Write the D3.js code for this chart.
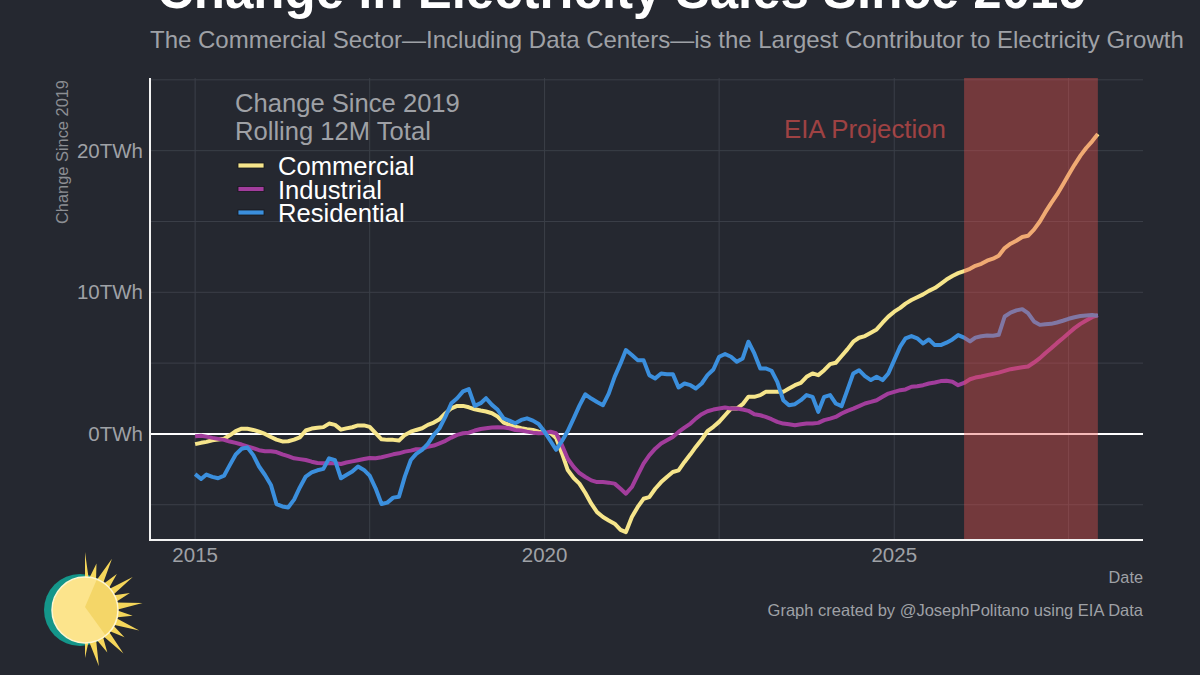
<!DOCTYPE html>
<html>
<head>
<meta charset="utf-8">
<script src="https://cdn.jsdelivr.net/npm/d3@7"></script>
<style>
    html, body { margin: 0; padding: 0; background: #252830; }
    svg { display: block; font-family: "Liberation Sans", Arial, sans-serif; }
</style>
</head>
<body>
<svg id="chart" width="1200" height="675"></svg>
<script>

// Monthly values, Jan 2015 .. Dec 2027 (one row per year), TWh change vs 2019
var iStartYear = 2015;

var aCommercial = [
    -0.72, -0.63, -0.56, -0.45, -0.40, -0.34, -0.10, 0.20, 0.37, 0.36, 0.28, 0.16,
    0.00, -0.22, -0.40, -0.53, -0.52, -0.40, -0.24, 0.24, 0.38, 0.43, 0.48, 0.73,
    0.64, 0.30, 0.39, 0.47, 0.60, 0.60, 0.50, 0.05, -0.38, -0.42, -0.42, -0.47,
    -0.07, 0.16, 0.28, 0.40, 0.64, 0.80, 1.04, 1.46, 1.81, 1.98, 1.98, 1.88,
    1.74, 1.65, 1.58, 1.46, 1.22, 0.80, 0.64, 0.52, 0.40, 0.33, 0.28, 0.16,
    0.06, 0.06, -0.28, -1.38, -2.55, -3.11, -3.51, -4.17, -4.93, -5.52, -5.87, -6.11,
    -6.34, -6.77, -6.93, -5.87, -5.17, -4.58, -4.46, -3.87, -3.40, -3.04, -2.69, -2.57,
    -1.98, -1.44, -0.92, -0.40, 0.19, 0.50, 0.85, 1.32, 1.79, 1.79, 2.10, 2.62,
    2.62, 2.74, 2.97, 2.97, 2.97, 2.97, 3.21, 3.44, 3.61, 4.03, 4.27, 4.15,
    4.50, 4.93, 5.02, 5.50, 5.97, 6.51, 6.79, 6.91, 7.15, 7.38, 7.85, 8.28,
    8.63, 8.90, 9.20, 9.45, 9.65, 9.85, 10.10, 10.30, 10.60, 10.90, 11.15, 11.35,
    11.50, 11.66, 11.87, 12.01, 12.23, 12.37, 12.58, 13.12, 13.43, 13.64, 13.90, 13.99,
    14.42, 15.00, 15.64, 16.30, 16.89, 17.60, 18.30, 19.00, 19.65, 20.19, 20.66, 21.18
];

var aIndustrial = [
    -0.16, -0.13, -0.19, -0.28, -0.35, -0.42, -0.54, -0.63, -0.75, -0.88, -1.01, -1.15,
    -1.22, -1.22, -1.28, -1.44, -1.57, -1.72, -1.78, -1.84, -1.96, -2.05, -2.07, -2.07,
    -2.07, -2.12, -2.02, -1.94, -1.86, -1.77, -1.70, -1.72, -1.65, -1.55, -1.44, -1.37,
    -1.25, -1.18, -1.08, -1.06, -0.90, -0.82, -0.66, -0.49, -0.26, -0.07, 0.05, 0.09,
    0.24, 0.35, 0.40, 0.45, 0.47, 0.45, 0.40, 0.28, 0.24, 0.16, 0.09, 0.05,
    0.06, 0.15, 0.05, -0.80, -1.75, -2.33, -2.76, -3.04, -3.28, -3.40, -3.40, -3.44,
    -3.51, -3.87, -4.22, -3.75, -2.92, -2.10, -1.51, -1.04, -0.68, -0.45, -0.21, 0.14,
    0.45, 0.73, 1.08, 1.39, 1.60, 1.72, 1.79, 1.86, 1.79, 1.79, 1.72, 1.63,
    1.39, 1.32, 1.20, 1.04, 0.85, 0.73, 0.68, 0.61, 0.68, 0.73, 0.73, 0.78,
    0.97, 1.08, 1.20, 1.44, 1.63, 1.79, 1.96, 2.15, 2.26, 2.38, 2.62, 2.85,
    2.97, 3.09, 3.14, 3.33, 3.37, 3.44, 3.56, 3.63, 3.73, 3.75, 3.68, 3.44,
    3.60, 3.86, 3.98, 4.05, 4.15, 4.24, 4.33, 4.45, 4.57, 4.64, 4.71, 4.76,
    5.04, 5.35, 5.70, 6.05, 6.41, 6.76, 7.11, 7.47, 7.77, 8.01, 8.24, 8.39
];

var aResidential = [
    -2.84, -3.18, -2.87, -3.03, -3.13, -2.95, -2.20, -1.45, -1.05, -0.95, -1.50, -2.30,
    -2.90, -3.60, -4.95, -5.12, -5.19, -4.64, -3.78, -3.01, -2.72, -2.57, -2.47, -1.72,
    -1.86, -3.13, -2.90, -2.66, -2.30, -2.54, -2.95, -3.84, -4.95, -4.85, -4.50, -4.43,
    -3.00, -1.84, -1.41, -1.13, -0.70, -0.07, 0.40, 1.22, 2.17, 2.52, 3.00, 3.16,
    1.98, 2.17, 2.52, 2.05, 1.70, 1.10, 0.94, 0.75, 0.99, 1.10, 0.94, 0.70,
    0.15, -0.50, -1.12, -0.50, 0.20, 1.10, 2.00, 2.80, 2.50, 2.26, 2.03, 2.85,
    4.03, 4.98, 5.92, 5.57, 5.21, 5.21, 4.15, 3.92, 4.27, 4.22, 4.22, 3.28,
    3.56, 3.44, 3.21, 3.56, 4.15, 4.55, 5.45, 5.64, 5.45, 5.09, 5.33, 6.51,
    5.68, 4.62, 4.62, 4.46, 3.68, 2.38, 2.03, 2.10, 2.38, 2.74, 2.62, 1.56,
    2.62, 2.74, 2.15, 1.96, 3.09, 4.27, 4.50, 4.08, 3.80, 4.03, 3.80, 4.27,
    5.21, 6.16, 6.75, 6.91, 6.75, 6.39, 6.67, 6.27, 6.27, 6.44, 6.67, 6.98,
    6.80, 6.53, 6.80, 6.90, 6.95, 6.93, 7.00, 8.29, 8.57, 8.72, 8.81, 8.53,
    7.94, 7.70, 7.75, 7.77, 7.87, 7.99, 8.13, 8.24, 8.32, 8.36, 8.39, 8.34
];

var aSeriesNames = ["Commercial", "Industrial", "Residential"];
var aYTicks = [0, 10, 20];
var aYGrid = [-5, 0, 5, 10, 15, 20, 25];
var aXTicks = [2015, 2020, 2025];
var aXGrid = [2015, 2017.5, 2020, 2022.5, 2025, 2027.5];
var aProjection = ["2026-01-01", "2027-12-01"];

var sTitle = "Change in Electricity Sales Since 2019";
var sSubtitle = "The Commercial Sector\u2014Including Data Centers\u2014is the Largest Contributor to Electricity Growth";
var aLegendTitle = ["Change Since 2019", "Rolling 12M Total"];
var sYTitle = "Change Since 2019";
var sXTitle = "Date";
var sCaption = "Graph created by @JosephPolitano using EIA Data";
var sProjectionLabel = "EIA Projection";

var oColors = {
    Commercial: "#f6e58b",
    Industrial: "#a23d9c",
    Residential: "#3b8fdd"
};
var sGray = "#9fa1a6";
var sShade = "#e8534f";

// Plot panel
var oPanel = { iLeft: 150, iRight: 1143, iTop: 78, iBottom: 540 };

var dSVG = d3.select("#chart");

var aDates = aCommercial.map(function(v, i) {
    return new Date(iStartYear, i, 1);
});

var aSeries = aSeriesNames.map(function(sName) {
    var aVals = sName === "Commercial" ? aCommercial : (sName === "Industrial" ? aIndustrial : aResidential);
    return {
        name: sName,
        values: aVals.map(function(v, i) { return { date: aDates[i], value: v }; })
    };
});

// ggplot-style 5% expansion on the date axis
var aExtent = d3.extent(aDates);
var iPad = (aExtent[1] - aExtent[0]) * 0.05;

var x = d3.scaleTime()
    .domain([new Date(+aExtent[0] - iPad), new Date(+aExtent[1] + iPad)])
    .range([oPanel.iLeft, oPanel.iRight]);

var y = d3.scaleLinear()
    .domain([-7.49, 25.13])
    .range([oPanel.iBottom, oPanel.iTop]);

function yearToDate(fYear) {
    var iYear = Math.floor(fYear);
    return new Date(iYear, Math.round((fYear - iYear) * 12), 1);
}

// Gridlines
var dGrid = dSVG.append("g").attr("stroke", "#3b3f48").attr("stroke-width", 1);

dGrid.selectAll("line.h").data(aYGrid).enter().append("line")
    .attr("class", "h")
    .attr("x1", oPanel.iLeft).attr("x2", oPanel.iRight)
    .attr("y1", function(d) { return y(d); })
    .attr("y2", function(d) { return y(d); });

dGrid.selectAll("line.v").data(aXGrid).enter().append("line")
    .attr("class", "v")
    .attr("y1", oPanel.iTop).attr("y2", oPanel.iBottom)
    .attr("x1", function(d) { return x(yearToDate(d)); })
    .attr("x2", function(d) { return x(yearToDate(d)); });

// Projection label (sits under the lines, semi transparent)
dSVG.append("text")
    .attr("x", x(new Date(2024, 7, 1)))
    .attr("y", 138)
    .attr("text-anchor", "middle")
    .style("font-size", "25.8px")
    .style("fill", sShade)
    .style("opacity", 0.62)
    .text(sProjectionLabel);

// Zero line
dSVG.append("line")
    .attr("x1", oPanel.iLeft).attr("x2", oPanel.iRight)
    .attr("y1", y(0)).attr("y2", y(0))
    .attr("stroke", "#ffffff")
    .attr("stroke-width", 2);

// Series lines
var line = d3.line()
    .x(function(d) { return x(d.date); })
    .y(function(d) { return y(d.value); });

dSVG.append("g").selectAll("path").data(aSeries).enter().append("path")
    .attr("d", function(d) { return line(d.values); })
    .attr("fill", "none")
    .attr("stroke", function(d) { return oColors[d.name]; })
    .attr("stroke-width", 4)
    .attr("stroke-linejoin", "round");

// Projection shading on top of the lines
var dProjStart = new Date(aProjection[0]);
var dProjEnd = new Date(aProjection[1]);
dProjStart = new Date(dProjStart.getUTCFullYear(), dProjStart.getUTCMonth(), 1);
dProjEnd = new Date(dProjEnd.getUTCFullYear(), dProjEnd.getUTCMonth(), 1);

dSVG.append("rect")
    .attr("x", x(dProjStart))
    .attr("y", oPanel.iTop)
    .attr("width", x(dProjEnd) - x(dProjStart))
    .attr("height", oPanel.iBottom - oPanel.iTop)
    .attr("fill", sShade)
    .attr("opacity", 0.4);

// Axis lines
dSVG.append("line")
    .attr("x1", oPanel.iLeft).attr("x2", oPanel.iLeft)
    .attr("y1", oPanel.iTop).attr("y2", oPanel.iBottom + 1)
    .attr("stroke", "#f2f2f2").attr("stroke-width", 2);

dSVG.append("line")
    .attr("x1", oPanel.iLeft - 1).attr("x2", oPanel.iRight)
    .attr("y1", oPanel.iBottom).attr("y2", oPanel.iBottom)
    .attr("stroke", "#f2f2f2").attr("stroke-width", 2);

// Axis tick labels
dSVG.append("g").selectAll("text").data(aYTicks).enter().append("text")
    .attr("x", oPanel.iLeft - 7)
    .attr("y", function(d) { return y(d) + 7; })
    .attr("text-anchor", "end")
    .style("font-size", "20.5px")
    .style("fill", sGray)
    .text(function(d) { return d + "TWh"; });

dSVG.append("g").selectAll("text").data(aXTicks).enter().append("text")
    .attr("x", function(d) { return x(new Date(d, 0, 1)); })
    .attr("y", 562)
    .attr("text-anchor", "middle")
    .style("font-size", "20.5px")
    .style("fill", sGray)
    .text(function(d) { return d; });

// Axis titles
dSVG.append("text")
    .attr("transform", "translate(68," + (oPanel.iTop + 2) + ") rotate(-90)")
    .attr("text-anchor", "end")
    .style("font-size", "16.4px")
    .style("fill", "#8c8e93")
    .text(sYTitle);

dSVG.append("text")
    .attr("x", oPanel.iRight).attr("y", 583)
    .attr("text-anchor", "end")
    .style("font-size", "16.3px")
    .style("fill", sGray)
    .text(sXTitle);

// Title, subtitle, caption
dSVG.append("text")
    .attr("x", 157).attr("y", 8)
    .style("font-size", "51px")
    .style("font-weight", "bold")
    .style("fill", "#ffffff")
    .text(sTitle);

dSVG.append("text")
    .attr("x", 150).attr("y", 48)
    .style("font-size", "24px")
    .style("fill", sGray)
    .text(sSubtitle);

dSVG.append("text")
    .attr("x", oPanel.iRight).attr("y", 616)
    .attr("text-anchor", "end")
    .style("font-size", "16.5px")
    .style("fill", sGray)
    .text(sCaption);

// Legend
var dLegend = dSVG.append("g");

dLegend.selectAll("text.title").data(aLegendTitle).enter().append("text")
    .attr("class", "title")
    .attr("x", 235)
    .attr("y", function(d, i) { return 112 + i * 27.5; })
    .style("font-size", "25.6px")
    .style("fill", sGray)
    .text(function(d) { return d; });

var dItems = dLegend.selectAll("g.item").data(aSeriesNames).enter().append("g")
    .attr("class", "item")
    .attr("transform", function(d, i) { return "translate(0," + (i * 23.5) + ")"; });

dItems.append("rect")
    .attr("x", 238).attr("y", 163)
    .attr("width", 26).attr("height", 5)
    .attr("fill", function(d) { return oColors[d]; })
    .attr("stroke", "#15171c")
    .attr("stroke-width", 0.8);

dItems.append("text")
    .attr("x", 278).attr("y", 175)
    .style("font-size", "25.6px")
    .style("fill", "#ffffff")
    .text(function(d) { return d; });

// Sun logo, bottom left
var dSun = dSVG.append("g").attr("transform", "translate(85,610)");

dSun.append("circle")
    .attr("cx", -5).attr("cy", 0).attr("r", 36)
    .attr("fill", "#14968a");

var aRayPts = [];
var iRays = 13;
for (var i = 0; i <= iRays * 2; i++) {
    var fAng = -Math.PI / 2 + Math.PI * i / (iRays * 2);
    var fR = (i % 2 === 0) ? (i % 4 === 0 ? 58 : 48) : 31;
    aRayPts.push([Math.cos(fAng) * fR, Math.sin(fAng) * fR]);
}
dSun.append("polygon")
    .attr("points", aRayPts.map(function(p) { return p.join(","); }).join(" "))
    .attr("fill", "#f5d65a");

dSun.append("circle")
    .attr("r", 33)
    .attr("fill", "#fce48c")
    .attr("stroke", "#fff6d0")
    .attr("stroke-width", 1.5);

var fA0 = -69 * Math.PI / 180, fA1 = 51 * Math.PI / 180, fRw = 32;
dSun.append("path")
    .attr("d", "M0,-3 L" + (Math.cos(fA0) * fRw) + "," + (Math.sin(fA0) * fRw) +
        " A" + fRw + "," + fRw + " 0 0 1 " + (Math.cos(fA1) * fRw) + "," + (Math.sin(fA1) * fRw) + " Z")
    .attr("fill", "#f4d668");

</script>
</body>
</html>
